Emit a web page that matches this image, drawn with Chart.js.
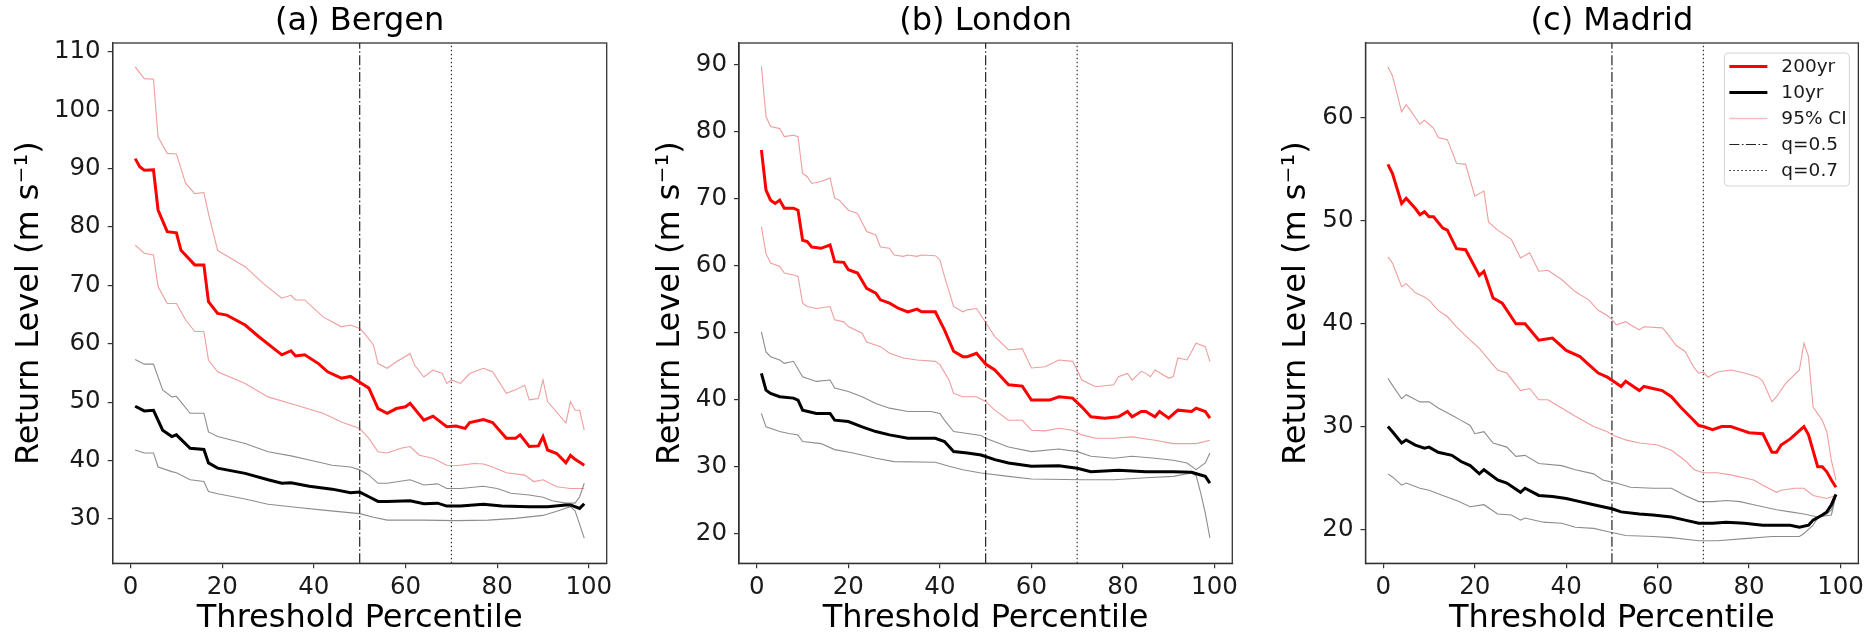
<!DOCTYPE html>
<html>
<head>
<meta charset="utf-8">
<title>Return level vs threshold percentile</title>
<script src="https://cdn.jsdelivr.net/npm/chart.js@4.4.1/dist/chart.umd.min.js"></script>
<style>
  html, body { margin: 0; padding: 0; background: #fff; }
  #wrap { position: relative; width: 1869px; height: 637px; overflow: hidden; }
  #wrap canvas { position: absolute; top: 0; }
</style>
</head>
<body>
<div id="wrap">
  <canvas id="bergen" width="626" height="637" style="left:0"></canvas>
  <canvas id="london" width="626" height="637" style="left:626px"></canvas>
  <canvas id="madrid" width="617" height="637" style="left:1252px"></canvas>
</div>
<script>
// shared x axis (threshold percentile)
const xTicks = [0, 20, 40, 60, 80, 100];
const xRange = [-3.9, 103.9];
const qLines = [50, 70];

// (a) Bergen -- [percentile, return level]
const bergenYTicks = [30, 40, 50, 60, 70, 80, 90, 100, 110];
const bergenYRange = [22.4, 111.5];
const bergen200 = [[1,91.7],[2,90.3],[3,89.7],[5,89.8],[6,82.9],[8,79.2],[10,79.0],[11,76.0],[14,73.5],[16,73.5],[17,67.2],[19,65.2],[21,64.9],[25,63.2],[28,61.2],[33,58.1],[35,58.8],[36,57.9],[38,58.1],[41,56.6],[43,55.2],[46,54.1],[48,54.4],[50,53.4],[52,52.4],[54,48.9],[56,48.1],[58,48.9],[60,49.2],[61,49.8],[64,46.9],[66,47.6],[69,45.8],[71,45.9],[73,45.5],[74,46.5],[77,47.0],[79,46.5],[82,43.8],[84,43.8],[85,44.4],[87,42.4],[89,42.5],[90,44.1],[91,41.8],[93,41.2],[95,39.6],[96,40.9],[97,40.2],[99,39.2]];
const bergen200Up = [[1,107.4],[3,105.4],[5,105.3],[6,95.4],[8,92.6],[10,92.5],[12,87.5],[14,85.7],[16,85.9],[17,82.3],[19,76.0],[20,75.5],[25,73.2],[29,70.3],[33,67.8],[35,68.3],[36,67.5],[38,67.5],[42,64.6],[46,62.9],[48,63.2],[50,62.6],[51,61.8],[53,59.8],[54,56.6],[56,55.8],[58,56.9],[61,58.3],[62,56.3],[64,54.3],[66,55.5],[68,54.9],[69,53.2],[70,53.8],[72,53.2],[74,54.9],[77,55.8],[79,55.2],[82,51.5],[84,52.1],[86,52.9],[87,50.4],[89,50.6],[90,53.8],[91,50.1],[95,46.4],[96,50.1],[97,48.6],[98,48.6],[99,45.2]];
const bergen200Lo = [[1,76.9],[3,75.5],[5,75.2],[6,69.8],[8,66.9],[10,66.9],[12,64.1],[14,62.1],[16,62.1],[17,57.2],[19,55.2],[25,53.2],[30,50.9],[36,49.5],[42,48.1],[46,46.6],[50,45.5],[52,43.8],[54,41.5],[56,41.3],[59,42.1],[61,42.4],[63,40.9],[66,40.4],[69,39.2],[71,39.1],[75,39.5],[77,39.4],[79,38.9],[82,37.9],[86,37.5],[88,36.4],[90,36.7],[93,35.5],[96,35.2],[99,35.2]];
const bergen10 = [[1,49.3],[3,48.5],[5,48.6],[7,45.2],[9,44.1],[10,44.4],[13,42.1],[16,41.9],[17,39.6],[19,38.7],[25,37.8],[30,36.7],[33,36.1],[35,36.2],[39,35.6],[44,35.1],[48,34.5],[50,34.6],[52,33.8],[54,33.0],[56,33.0],[61,33.1],[64,32.6],[67,32.7],[69,32.2],[72,32.2],[77,32.5],[81,32.2],[87,32.1],[91,32.1],[95,32.4],[96,32.4],[98,31.8],[99,32.6]];
const bergen10Up = [[1,57.3],[3,56.5],[5,56.5],[7,52.1],[9,50.9],[10,51.0],[13,48.1],[16,48.1],[17,44.9],[19,44.1],[25,42.9],[30,41.5],[35,40.8],[39,40.1],[44,39.2],[48,38.9],[50,38.4],[52,37.5],[54,36.1],[56,36.1],[61,36.7],[64,35.8],[67,36.0],[69,35.2],[72,35.2],[77,35.6],[80,35.2],[83,34.4],[87,34.1],[90,33.7],[92,33.1],[95,32.7],[97,32.7],[98,33.8],[99,36.1]];
const bergen10Lo = [[1,41.8],[3,41.3],[5,41.3],[6,38.9],[9,38.1],[10,37.9],[13,36.7],[16,36.4],[17,34.7],[19,34.3],[25,33.4],[30,32.5],[36,32.0],[42,31.5],[50,30.9],[53,30.3],[56,29.8],[64,29.8],[71,29.7],[78,29.8],[84,30.1],[90,30.6],[93,31.3],[96,32.1],[97,31.4],[99,26.7]];

// (b) London
const londonYTicks = [20, 30, 40, 50, 60, 70, 80, 90];
const londonYRange = [15.5, 93.3];
const london200 = [[1,77.3],[2,71.3],[3,69.8],[4,69.3],[5,69.8],[6,68.6],[8,68.6],[9,68.3],[10,63.8],[11,63.6],[12,62.8],[14,62.6],[16,63.1],[17,60.6],[19,60.5],[20,59.4],[22,58.9],[24,56.6],[26,55.9],[27,54.9],[29,54.4],[31,53.6],[33,53.1],[35,53.5],[36,53.1],[39,53.1],[41,50.4],[43,47.2],[45,46.4],[46,46.4],[48,46.9],[50,45.3],[52,44.4],[55,42.2],[58,42.0],[60,39.9],[62,39.9],[64,39.9],[66,40.4],[69,40.2],[71,38.9],[73,37.4],[76,37.2],[79,37.4],[81,38.2],[82,37.4],[84,38.2],[85,38.2],[87,37.4],[88,38.2],[90,37.2],[92,38.4],[95,38.2],[96,38.7],[98,38.2],[99,37.2]];
const london200Up = [[1,89.8],[2,82.3],[3,80.8],[5,80.5],[6,79.3],[8,79.5],[9,79.3],[10,73.8],[11,73.3],[12,72.3],[14,72.6],[16,73.1],[17,70.1],[18,69.8],[20,68.3],[22,67.8],[24,65.1],[26,64.6],[27,62.8],[29,62.6],[30,61.6],[32,61.4],[33,61.6],[35,61.4],[36,61.6],[39,61.5],[40,60.9],[41,58.4],[43,53.9],[45,53.1],[46,53.4],[48,53.6],[50,51.5],[52,49.4],[55,47.4],[58,47.6],[60,44.7],[63,44.9],[66,45.9],[69,45.7],[70,44.4],[71,42.9],[74,41.9],[78,42.2],[79,43.4],[81,43.9],[82,42.9],[84,44.2],[85,43.9],[86,43.4],[87,44.4],[90,43.2],[91,43.4],[92,46.2],[94,45.9],[96,48.4],[98,47.9],[99,45.7]];
const london200Lo = [[1,65.8],[2,61.8],[3,60.4],[5,59.9],[6,58.9],[8,58.6],[9,58.4],[10,54.4],[11,53.9],[13,53.6],[16,53.9],[17,51.9],[19,51.6],[20,50.9],[23,49.9],[24,48.6],[27,47.9],[29,46.9],[32,46.2],[35,45.9],[39,45.7],[40,45.2],[42,42.9],[43,40.9],[45,40.4],[48,40.4],[50,39.7],[52,38.4],[55,36.9],[58,36.9],[60,35.4],[63,35.3],[66,35.7],[69,35.4],[71,34.7],[74,34.2],[78,34.2],[82,34.4],[87,33.9],[91,33.4],[96,33.4],[99,33.9]];
const london10 = [[1,43.9],[2,41.4],[3,40.9],[5,40.4],[8,40.2],[9,39.9],[10,38.4],[13,37.9],[16,37.9],[17,36.9],[20,36.7],[23,35.9],[26,35.2],[29,34.7],[33,34.2],[39,34.2],[41,33.7],[43,32.2],[46,32.0],[49,31.7],[52,31.0],[55,30.5],[60,30.0],[66,30.1],[70,29.7],[73,29.2],[79,29.4],[85,29.2],[91,29.2],[95,29.1],[97,28.7],[98,28.5],[99,27.5]];
const london10Up = [[1,50.1],[2,47.1],[3,46.4],[5,45.9],[6,45.4],[8,45.7],[10,43.4],[13,42.7],[16,42.9],[17,41.7],[20,41.2],[23,40.4],[26,39.4],[29,38.7],[33,38.2],[38,38.2],[40,37.9],[41,36.9],[43,35.2],[46,34.9],[49,34.6],[50,34.2],[55,32.9],[60,32.2],[66,32.6],[70,32.2],[73,31.5],[78,31.2],[82,31.5],[87,31.2],[91,30.9],[94,30.5],[96,29.5],[98,30.5],[99,32.0]];
const london10Lo = [[1,37.9],[2,35.9],[5,35.2],[7,34.9],[9,34.7],[10,33.7],[14,33.4],[17,32.5],[21,32.0],[26,31.2],[30,30.7],[39,30.6],[42,30.0],[45,29.5],[49,29.0],[55,28.5],[60,28.1],[71,28.0],[78,28.0],[85,28.3],[91,28.5],[95,29.0],[96,28.6],[97,26.0],[98,23.0],[99,19.3]];

// (c) Madrid
const madridYTicks = [20, 30, 40, 50, 60];
const madridYRange = [16.7, 67.3];
const madrid200 = [[1,55.5],[2,54.6],[4,51.7],[5,52.2],[7,51.2],[8,50.6],[9,50.9],[10,50.4],[11,50.4],[13,49.3],[14,49.1],[16,47.3],[18,47.2],[21,44.7],[22,45.1],[24,42.5],[26,42.0],[29,40.0],[31,40.0],[34,38.4],[37,38.6],[40,37.4],[43,36.8],[45,36.0],[47,35.2],[49,34.8],[50,34.5],[52,33.9],[53,34.4],[56,33.5],[57,33.9],[61,33.5],[63,32.9],[65,31.9],[67,31.0],[69,30.1],[70,30.0],[72,29.7],[74,30.0],[76,30.0],[78,29.7],[80,29.4],[83,29.3],[85,27.5],[86,27.5],[87,28.2],[89,28.8],[92,30.0],[93,29.2],[95,26.1],[96,26.1],[97,25.6],[98,24.8],[99,24.1]];
const madrid200Up = [[1,65.0],[2,64.1],[4,60.6],[5,61.3],[6,60.7],[8,59.4],[9,59.8],[10,59.4],[11,59.0],[12,58.1],[14,57.9],[16,55.6],[18,55.5],[20,52.4],[22,52.9],[23,49.9],[25,49.1],[28,48.2],[30,46.4],[32,46.9],[34,45.1],[36,45.2],[39,44.3],[42,43.1],[45,42.3],[47,41.3],[49,40.8],[50,40.4],[51,39.9],[53,40.2],[54,39.9],[56,39.4],[57,39.7],[61,39.6],[62,39.1],[64,37.9],[66,37.3],[68,35.7],[69,35.2],[70,35.3],[71,34.8],[73,35.3],[76,35.5],[79,35.2],[82,34.8],[83,34.4],[85,32.4],[86,32.9],[88,34.2],[91,35.5],[92,38.1],[93,36.8],[94,31.9],[96,30.6],[97,29.5],[98,26.7],[99,24.8]];
const madrid200Lo = [[1,46.5],[2,45.9],[4,43.6],[5,43.9],[7,43.0],[9,42.6],[10,42.3],[12,41.3],[14,40.7],[16,39.7],[19,38.4],[21,37.6],[24,36.0],[25,35.5],[27,35.2],[30,33.5],[32,33.7],[34,32.6],[36,32.6],[39,31.8],[42,31.0],[46,30.0],[49,29.5],[50,29.2],[53,28.7],[56,28.4],[60,28.2],[63,27.7],[66,26.7],[68,25.8],[70,25.5],[73,25.5],[76,25.3],[81,24.8],[83,24.3],[86,23.6],[87,23.8],[90,24.0],[92,24.0],[94,23.3],[97,23.0],[99,23.3]];
const madrid10 = [[1,30.0],[2,29.5],[4,28.4],[5,28.7],[7,28.2],[9,27.9],[10,28.0],[12,27.5],[15,27.2],[17,26.6],[19,26.2],[21,25.4],[22,25.8],[25,24.8],[27,24.5],[30,23.6],[31,24.0],[34,23.3],[37,23.2],[40,23.0],[43,22.7],[46,22.4],[48,22.2],[50,22.0],[52,21.7],[56,21.5],[59,21.4],[63,21.2],[66,20.9],[69,20.6],[72,20.6],[75,20.7],[79,20.6],[83,20.4],[86,20.4],[89,20.4],[91,20.2],[93,20.4],[94,20.9],[96,21.4],[97,21.7],[98,22.4],[99,23.4]];
const madrid10Up = [[1,34.7],[2,34.0],[4,32.7],[5,33.1],[8,32.4],[10,32.4],[12,31.8],[15,31.1],[17,30.6],[19,30.1],[20,29.3],[22,29.5],[24,28.4],[27,28.0],[29,27.1],[31,27.2],[34,26.4],[39,26.2],[42,25.8],[46,25.4],[48,24.8],[51,24.5],[54,24.1],[59,24.0],[63,24.0],[66,23.3],[69,22.7],[72,22.7],[75,22.8],[78,22.7],[81,22.4],[83,22.2],[86,21.9],[89,21.7],[92,21.5],[95,21.2],[98,21.4],[99,23.3]];
const madrid10Lo = [[1,25.4],[2,25.1],[4,24.3],[5,24.5],[8,24.0],[10,23.8],[13,23.3],[16,22.8],[19,22.2],[22,22.4],[25,21.5],[28,21.4],[30,20.9],[31,21.1],[35,20.7],[39,20.6],[42,20.2],[46,20.1],[49,19.8],[53,19.4],[59,19.3],[63,19.2],[69,18.9],[73,18.9],[79,19.1],[85,19.3],[91,19.3],[92,19.6],[94,20.4],[95,21.1],[97,21.5],[98,21.9],[99,23.3]];

const FONT = "'DejaVu Sans', sans-serif";
Chart.defaults.font.family = FONT;
Chart.defaults.color = '#1a1a1a';

const RED = '#ff0000';
const CI_RED = 'rgba(225, 60, 60, 0.5)';
const CI_GREY = 'rgba(0, 0, 0, 0.45)';
const DASHDOT = [10, 2.5, 1.6, 2.5];
const DOTTED = [1.5, 2.5];

const pts = arr => arr.map(([x, y]) => ({x, y}));
const vline = (x, yr) => [{x, y: yr[0]}, {x, y: yr[1]}];

// box around the axes (matplotlib spines)
const frame = {
  id: 'frame',
  afterDraw(chart) {
    const {ctx, chartArea: a} = chart;
    ctx.save();
    ctx.strokeStyle = '#333';
    ctx.lineWidth = 1.3;
    ctx.strokeRect(a.left, a.top, a.right - a.left, a.bottom - a.top);
    ctx.restore();
  }
};

// legend inside the upper right corner of panel (c)
const legendItems = [
  {label: '200yr', color: RED, width: 3, dash: []},
  {label: '10yr', color: '#000', width: 3, dash: []},
  {label: '95% CI', color: 'rgba(235, 90, 90, 0.4)', width: 1.5, dash: []},
  {label: 'q=0.5', color: '#222', width: 1.2, dash: DASHDOT},
  {label: 'q=0.7', color: '#222', width: 1.1, dash: DOTTED},
];
const insetLegend = {
  id: 'insetLegend',
  afterDraw(chart) {
    const {ctx, chartArea: a} = chart;
    const w = 125, h = 133;
    const x0 = a.right - 9 - w, y0 = a.top + 10;
    ctx.save();
    ctx.beginPath();
    if (ctx.roundRect) ctx.roundRect(x0, y0, w, h, 4); else ctx.rect(x0, y0, w, h);
    ctx.fillStyle = 'rgba(255,255,255,0.8)';
    ctx.fill();
    ctx.strokeStyle = '#d3d3d3';
    ctx.lineWidth = 1;
    ctx.stroke();
    ctx.font = '18.5px ' + FONT;
    ctx.textBaseline = 'middle';
    ctx.textAlign = 'left';
    legendItems.forEach((it, i) => {
      const y = y0 + 13.5 + i * 26;
      ctx.beginPath();
      ctx.setLineDash(it.dash);
      ctx.strokeStyle = it.color;
      ctx.lineWidth = it.width;
      ctx.moveTo(x0 + 5, y);
      ctx.lineTo(x0 + 43, y);
      ctx.stroke();
      ctx.setLineDash([]);
      ctx.fillStyle = '#1a1a1a';
      ctx.fillText(it.label, x0 + 57, y + 1);
    });
    ctx.restore();
  }
};

function makeDatasets(s, yRange) {
  const base = {pointRadius: 0, tension: 0, fill: false};
  return [
    {...base, label: '200yr', data: pts(s.rl200), borderColor: RED, borderWidth: 3},
    {...base, label: '10yr', data: pts(s.rl10), borderColor: '#000', borderWidth: 3},
    {...base, label: '95% CI', data: pts(s.up200), borderColor: CI_RED, borderWidth: 1.1},
    {...base, label: '95% CI lo', data: pts(s.lo200), borderColor: CI_RED, borderWidth: 1.1},
    {...base, label: '10yr CI', data: pts(s.up10), borderColor: CI_GREY, borderWidth: 1.1},
    {...base, label: '10yr CI lo', data: pts(s.lo10), borderColor: CI_GREY, borderWidth: 1.1},
    {...base, label: 'q=0.5', data: vline(qLines[0], yRange), borderColor: '#222', borderWidth: 1.2, borderDash: DASHDOT},
    {...base, label: 'q=0.7', data: vline(qLines[1], yRange), borderColor: '#222', borderWidth: 1.1, borderDash: DOTTED},
  ];
}

function makeChart(id, title, s, yRange, yTicks, box) {
  const grid = {drawOnChartArea: false, drawTicks: true, tickLength: 5, color: '#333', lineWidth: 1.2};
  const border = {display: true, color: '#333', width: 1.3};
  const tickFont = {size: 24.5};
  return new Chart(document.getElementById(id), {
    type: 'line',
    data: {datasets: makeDatasets(s, yRange)},
    options: {
      responsive: false,
      animation: false,
      layout: {padding: {left: 0, right: box.padRight, top: 0, bottom: 0}},
      plugins: {
        legend: {display: false},
        tooltip: {enabled: false},
        title: {
          display: true, text: title, fullSize: false, color: '#000',
          font: {size: 32, weight: 'normal'}, padding: {top: 2.3, bottom: 2.3}
        }
      },
      scales: {
        x: {
          type: 'linear', min: xRange[0], max: xRange[1],
          afterBuildTicks: sc => { sc.ticks = xTicks.map(v => ({value: v})); },
          afterFit: sc => { sc.height = 73.7; },
          ticks: {autoSkip: false, maxRotation: 0, padding: 4.7, color: '#1a1a1a', font: tickFont, callback: v => String(v)},
          grid, border,
          title: {display: true, text: 'Threshold Percentile', color: '#000', font: {size: 32}, padding: {top: 0, bottom: -1}}
        },
        y: {
          type: 'linear', min: yRange[0], max: yRange[1],
          afterBuildTicks: sc => { sc.ticks = yTicks.map(v => ({value: v})); },
          afterFit: sc => { sc.width = box.yWidth; },
          ticks: {autoSkip: false, padding: 7, color: '#1a1a1a', font: tickFont, callback: v => String(v)},
          grid, border,
          title: {display: true, text: 'Return Level (m s⁻¹)', color: '#000', font: {size: 32}, padding: {top: box.yTitlePad, bottom: 0}}
        }
      }
    },
    plugins: box.legend ? [frame, insetLegend] : [frame]
  });
}

makeChart('bergen', '(a) Bergen',
  {rl200: bergen200, up200: bergen200Up, lo200: bergen200Lo, rl10: bergen10, up10: bergen10Up, lo10: bergen10Lo},
  bergenYRange, bergenYTicks, {yWidth: 112.7, padRight: 19.3, yTitlePad: 10.3});

makeChart('london', '(b) London',
  {rl200: london200, up200: london200Up, lo200: london200Lo, rl10: london10, up10: london10Up, lo10: london10Lo},
  londonYRange, londonYTicks, {yWidth: 113, padRight: 19.7, yTitlePad: 25.8});

makeChart('madrid', '(c) Madrid',
  {rl200: madrid200, up200: madrid200Up, lo200: madrid200Lo, rl10: madrid10, up10: madrid10Up, lo10: madrid10Lo},
  madridYRange, madridYTicks, {yWidth: 113.5, padRight: 10, yTitlePad: 25.8, legend: true});
</script>
</body>
</html>
